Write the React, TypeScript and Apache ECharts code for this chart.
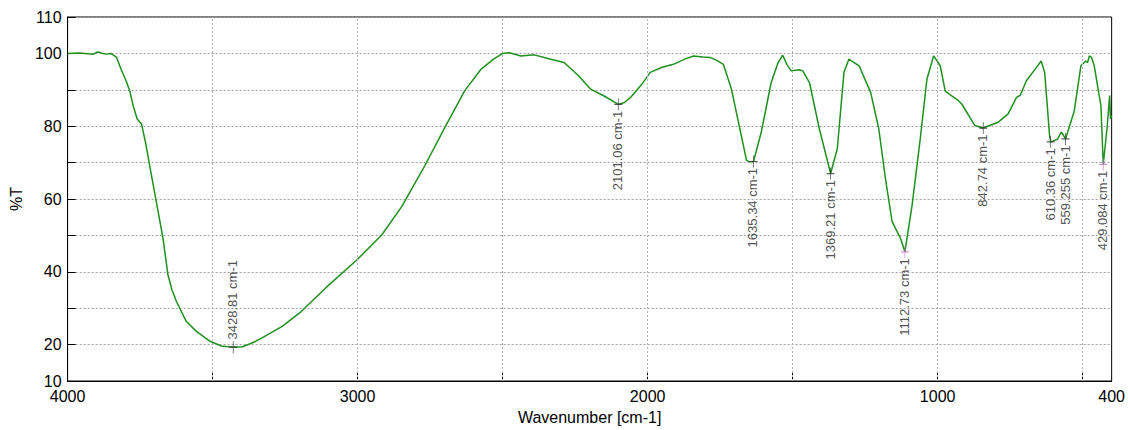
import React, { useEffect, useRef } from "react";
import * as echarts from "echarts";

const wavenumbers = [
  4000, 3960, 3930, 3911, 3900, 3894, 3880, 3865, 3850, 3842, 3831, 3815, 3797, 3785, 3774, 3760,
  3745, 3730, 3717, 3694, 3671, 3654, 3640, 3625, 3591, 3557, 3511, 3470, 3429, 3397, 3362, 3328,
  3260, 3200, 3111, 3002, 2917, 2848, 2768, 2699, 2631, 2574, 2530, 2499, 2477, 2437, 2391, 2334,
  2288, 2240, 2197, 2150, 2101, 2080, 2059, 2020, 1991, 1950, 1911, 1870, 1842, 1810, 1785, 1760,
  1739, 1711, 1682, 1659, 1648, 1635, 1608, 1574, 1550, 1534, 1520, 1505, 1490, 1477, 1465, 1442,
  1408, 1369, 1346, 1323, 1306, 1271, 1231, 1203, 1180, 1157, 1128, 1113, 1088, 1060, 1037, 1014,
  991, 974, 960, 928, 917, 872, 843, 791, 757, 728, 715, 694, 660, 643, 631, 614, 610, 603, 586,
  574, 566, 559, 529, 506, 489, 483, 477, 470, 460, 437, 429, 423, 415, 407, 405, 404, 400,
];
const transmittance = [
  100.0, 100.1, 99.9, 99.8, 100.3, 100.4, 100.0, 99.8, 100.0, 99.5, 98.9, 95.5, 92.2, 89.5, 85.6, 82.0,
  80.6, 75.0, 69.2, 59.2, 49.2, 39.2, 35.0, 31.9, 26.4, 23.7, 21.0, 19.6, 19.3, 19.4, 20.5, 21.9,
  25.0, 28.7, 35.5, 43.3, 50.1, 57.9, 69.2, 79.7, 89.7, 95.7, 98.5, 100.0, 100.2, 99.3, 99.6, 98.4,
  97.5, 94.0, 90.2, 88.3, 86.0, 86.5, 87.9, 91.5, 94.8, 96.2, 97.0, 98.5, 99.3, 99.0, 98.9, 98.0,
  97.0, 90.2, 79.3, 70.6, 70.2, 70.3, 78.4, 92.0, 97.5, 99.5, 97.0, 95.2, 95.4, 95.5, 95.2, 92.0,
  79.3, 67.0, 73.8, 94.8, 98.4, 96.6, 89.3, 79.3, 65.6, 53.8, 49.2, 45.5, 58.3, 76.5, 92.9, 99.3,
  96.6, 89.7, 88.8, 87.0, 86.1, 80.2, 79.5, 81.1, 83.4, 87.9, 88.5, 92.5, 96.1, 97.9, 94.8, 77.4, 75.7, 75.9, 76.5,
  78.4, 77.5, 76.5, 84.2, 96.6, 97.9, 97.5, 99.3, 99.0, 96.6, 85.6, 69.5, 74.0, 80.2, 88.4, 88.5, 82.0, 83.0,
];

const peakWavenumbers = [3428.81, 2101.06, 1635.34, 1369.21, 1112.73, 842.74, 610.36, 559.255, 429.084];
const peakValues = [19.3, 86.0, 70.3, 67.0, 45.5, 79.5, 75.7, 76.5, 69.5];
const peakLabels = [
  "3428.81 cm-1", "2101.06 cm-1", "1635.34 cm-1", "1369.21 cm-1", "1112.73 cm-1",
  "842.74 cm-1", "610.36 cm-1", "559.255 cm-1", "429.084 cm-1",
];
const peakLabelAbove = [true, false, false, false, false, false, false, false, false];
const peakMarkerColors = ["#333", "#333", "#333", "#333", "#d070d0", "#333", "#333", "#333", "#d070d0"];

const xLabelValues = [4000, 3000, 2000, 1000, 400];
const xGridValues = [3500, 3000, 2500, 2000, 1500, 1000, 500];
const yLabelValues = [10, 20, 40, 60, 80, 100, 110];

export default function App() {
  const ref = useRef<HTMLDivElement>(null);
  useEffect(() => {
    if (!ref.current) return;
    const chart = echarts.init(ref.current, null, { renderer: "svg" });
    const font = "'Liberation Sans', Arial, sans-serif";
    const lineData = wavenumbers.map((w, i) => [w, transmittance[i]]);
    const peakData = peakWavenumbers.map((w, i) => ({
      value: [w, peakValues[i]],
      itemStyle: { borderColor: peakMarkerColors[i] },
      label: peakLabelAbove[i]
        ? { position: [4, -1], align: "left" }
        : { position: [4, 13], align: "right" },
    }));
    chart.setOption({
      animation: false,
      backgroundColor: "#ffffff",
      grid: {
        left: 64,
        right: 12,
        top: 17,
        bottom: 46,
        show: true,
        borderColor: "#000",
        borderWidth: 1,
        backgroundColor: "transparent",
      },
      xAxis: {
        type: "value",
        min: 400,
        max: 4000,
        inverse: true,
        name: "Wavenumber [cm-1]",
        nameLocation: "middle",
        nameGap: 28,
        nameTextStyle: { fontSize: 16, color: "#000", fontFamily: font },
        axisLine: { show: true, lineStyle: { color: "#000", width: 1 } },
        axisTick: {
          show: true,
          inside: true,
          length: 10,
          customValues: xGridValues,
          lineStyle: { color: "#000" },
        },
        axisLabel: {
          customValues: xLabelValues,
          fontSize: 16,
          color: "#000",
          fontFamily: font,
          margin: 7,
          showMinLabel: true,
          showMaxLabel: true,
          formatter: (v: number) => String(v),
        },
        splitLine: { show: false },
      },
      yAxis: {
        type: "value",
        min: 10,
        max: 110,
        interval: 10,
        name: "%T",
        nameLocation: "middle",
        nameGap: 38,
        nameRotate: 90,
        nameTextStyle: { fontSize: 16, color: "#000", fontFamily: font },
        axisLine: { show: true, lineStyle: { color: "#000", width: 1 } },
        axisTick: { show: true, inside: true, length: 8, lineStyle: { color: "#000" } },
        axisLabel: {
          customValues: yLabelValues,
          fontSize: 16,
          color: "#000",
          fontFamily: font,
          margin: 6,
        },
        splitLine: {
          show: true,
          lineStyle: { color: "#a0a0a0", type: [2, 2], width: 1 },
        },
      },
      series: [
        {
          type: "line",
          data: lineData,
          showSymbol: false,
          symbol: "none",
          lineStyle: { color: "#1f8f1f", width: 1.5 },
          z: 3,
          markLine: {
            silent: true,
            symbol: "none",
            label: { show: false },
            lineStyle: { color: "#b4b4b4", type: [2, 2], width: 1 },
            emphasis: { disabled: true },
            data: xGridValues.map((v) => ({ xAxis: v })),
          },
        },
        {
          type: "scatter",
          data: peakData,
          symbol: "path://M0,5L10,5M5,0L5,10",
          symbolSize: [8, 12],
          itemStyle: { color: "transparent", borderColor: "#333", borderWidth: 1 },
          z: 4,
          label: {
            show: true,
            rotate: 90,
            verticalAlign: "middle",
            fontSize: 13,
            color: "#222",
            fontFamily: font,
            formatter: (p: any) => peakLabels[p.dataIndex],
          },
        },
      ],
    });
    return () => chart.dispose();
  }, []);
  return (
    <div
      ref={ref}
      style={{ position: "fixed", left: 0, top: 0, width: 1128, height: 430 }}
    />
  );
}
